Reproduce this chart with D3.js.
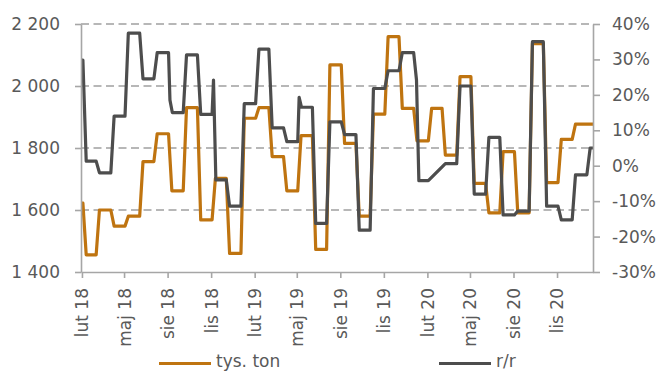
<!DOCTYPE html>
<html>
<head>
<meta charset="utf-8">
<script src="https://cdn.jsdelivr.net/npm/d3@7"></script>
<style>
  html, body { margin: 0; padding: 0; background: #ffffff; }
  svg { display: block; }
  text { font-family: "DejaVu Sans", Verdana, sans-serif; fill: #595959; }
</style>
</head>
<body>
<script>
// ---- data ----
const months = [
  "2018-01","2018-02","2018-03","2018-04","2018-05","2018-06","2018-07","2018-08","2018-09","2018-10","2018-11","2018-12",
  "2019-01","2019-02","2019-03","2019-04","2019-05","2019-06","2019-07","2019-08","2019-09","2019-10","2019-11","2019-12",
  "2020-01","2020-02","2020-03","2020-04","2020-05","2020-06","2020-07","2020-08","2020-09","2020-10","2020-11","2020-12",
  "2021-01"
];
const tonnes = [
  1622, 1455, 1600, 1548, 1580, 1756, 1846, 1662, 1930, 1568, 1702, 1460,
  1896, 1930, 1772, 1662, 1840, 1473, 2068, 1815, 1580, 1909, 2159, 1928,
  1823, 1928, 1777, 2030, 1686, 1591, 1788, 1591, 2137, 1688, 1828, 1877,
  1877
];
const yoy = [
  29.8, 1.3, -2.0, 14.0, 37.4, 24.5, 31.9, 15.0, 31.3, 14.5, -4.0, -11.4,
  17.5, 32.9, 10.7, 6.8, 16.5, -16.3, 12.4, 8.8, -18.2, 21.8, 26.8, 31.9,
  -4.2, null, 0.6, 22.5, -8.0, 8.0, -13.9, -12.8, 35.0, -11.4, -15.3, -2.6,
  5.0
];
// single weekly readings that stand apart from their month
const yoyExtraDates = ["2018-08-06", "2018-11-06", "2019-05-06", "2020-01-09"];
const yoyExtraValues = [18.5, 24.2, 19.3, 24.2];

const leftTicks = [1400, 1600, 1800, 2000, 2200];
const leftLabels = ["1 400", "1 600", "1 800", "2 000", "2 200"];
const rightTicks = [-30, -20, -10, 0, 10, 20, 30, 40];
const rightLabels = ["-30%", "-20%", "-10%", "0%", "10%", "20%", "30%", "40%"];
const xTickMonths = ["2018-02","2018-05","2018-08","2018-11","2019-02","2019-05","2019-08","2019-11","2020-02","2020-05","2020-08","2020-11"];
const xTickLabels = ["lut 18","maj 18","sie 18","lis 18","lut 19","maj 19","sie 19","lis 19","lut 20","maj 20","sie 20","lis 20"];
const seriesNames = ["tys. ton", "r/r"];

// ---- layout ----
const W = 662, H = 372;
const L = 81, R = 593, T = 24, B = 272;
const orange = "#BF7410", grey = "#4D4D4D", axisCol = "#A6A6A6", gridCol = "#A0A0A0";

const parseM = d3.utcParse("%Y-%m");
const parseD = d3.utcParse("%Y-%m-%d");

const svg = d3.select("body").append("svg").attr("width", W).attr("height", H);

const x = d3.scaleUtc().domain([parseD("2018-01-30"), parseD("2021-01-16")]).range([L, R]);
const yL = d3.scaleLinear().domain([1400, 2200]).range([B, T]);
const yR = d3.scaleLinear().domain([-30, 40]).range([B, T]);

svg.append("defs").append("clipPath").attr("id", "plot")
  .append("rect").attr("x", L).attr("y", 0).attr("width", R - L).attr("height", H);

// gridlines
svg.append("g").selectAll("line")
  .data(leftTicks.filter(t => t > 1400))
  .join("line")
  .attr("x1", L).attr("x2", R)
  .attr("y1", d => yL(d)).attr("y2", d => yL(d))
  .attr("stroke", gridCol).attr("stroke-width", 1.6).attr("stroke-dasharray", "8,4.5");

// build plateau-style path points from monthly values
function buildPoints(values, extraDates, extraValues) {
  const extras = (extraDates || []).map((d, i) => ({ d: parseD(d), v: extraValues[i] }));
  const pts = [];
  months.forEach((m, i) => {
    const v = values[i];
    if (v == null) return;
    const ms = parseM(m);
    const next = d3.utcMonth.offset(ms, 1);
    let start = d3.utcDay.offset(ms, 9);
    const ex = extras.filter(e => e.d >= ms && e.d < next);
    ex.forEach(e => {
      pts.push(e);
      const s2 = d3.utcDay.offset(e.d, 5);
      if (s2 > start) start = s2;
    });
    pts.push({ d: start, v });
    pts.push({ d: d3.utcDay.offset(next, 2), v });
  });
  pts.sort((a, b) => a.d - b.d);
  return pts;
}

const gLines = svg.append("g").attr("clip-path", "url(#plot)");
gLines.append("path")
  .datum(buildPoints(tonnes))
  .attr("fill", "none").attr("stroke", orange).attr("stroke-width", 3.2)
  .attr("stroke-linejoin", "round")
  .attr("d", d3.line().x(d => x(d.d)).y(d => yL(d.v)));
gLines.append("path")
  .datum(buildPoints(yoy, yoyExtraDates, yoyExtraValues))
  .attr("fill", "none").attr("stroke", grey).attr("stroke-width", 3.2)
  .attr("stroke-linejoin", "round")
  .attr("d", d3.line().x(d => x(d.d)).y(d => yR(d.v)));

// axes
function styleAxis(g) {
  g.selectAll(".domain").attr("stroke", axisCol).attr("stroke-width", 1.6);
  g.selectAll(".tick line").attr("stroke", axisCol).attr("stroke-width", 1.6);
  g.selectAll("text").attr("font-size", 17).attr("fill", "#595959")
    .attr("font-family", "'DejaVu Sans', Verdana, sans-serif");
}

const gl = svg.append("g").attr("transform", `translate(${L},0)`)
  .call(d3.axisLeft(yL).tickValues(leftTicks).tickFormat((d, i) => leftLabels[i])
    .tickSize(6).tickSizeOuter(0).tickPadding(15));
styleAxis(gl);

const gr = svg.append("g").attr("transform", `translate(${R},0)`)
  .call(d3.axisRight(yR).tickValues(rightTicks).tickFormat((d, i) => rightLabels[i])
    .tickSize(7).tickSizeOuter(0).tickPadding(12));
styleAxis(gr);

const gb = svg.append("g").attr("transform", `translate(0,${B})`)
  .call(d3.axisBottom(x).tickValues(xTickMonths.map(parseM)).tickFormat((d, i) => xTickLabels[i])
    .tickSize(6).tickSizeOuter(0));
styleAxis(gb);
gb.selectAll(".tick text")
  .attr("transform", "rotate(-90)")
  .attr("x", -16).attr("y", 0).attr("dy", "0.35em")
  .attr("text-anchor", "end");

// legend
const legend = [
  { name: seriesNames[0], color: orange, x: 159 },
  { name: seriesNames[1], color: grey, x: 439 }
];
const lg = svg.append("g");
legend.forEach(it => {
  lg.append("line").attr("x1", it.x).attr("x2", it.x + 52).attr("y1", 363.5).attr("y2", 363.5)
    .attr("stroke", it.color).attr("stroke-width", 3.2);
  lg.append("text").attr("x", it.x + 57).attr("y", 367)
    .attr("font-size", 17).text(it.name);
});
</script>
</body>
</html>
